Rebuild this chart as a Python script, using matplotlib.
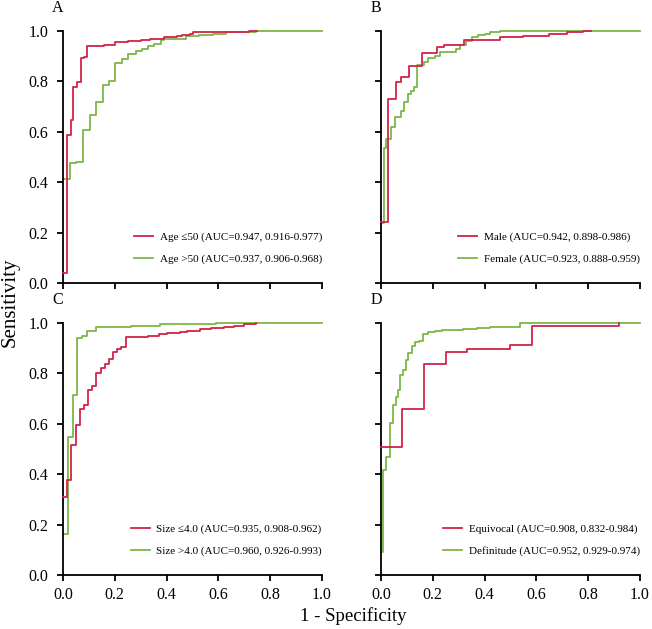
import matplotlib
matplotlib.use("Agg")
import matplotlib.pyplot as plt

plt.rcParams['font.family'] = ['Liberation Serif', 'DejaVu Serif']

RED = '#D2234B'
GREEN = '#7DB646'

# panel A - age
a_red_x = [0, 0.014, 0.030, 0.040, 0.053, 0.068, 0.080, 0.091, 0.16, 0.20, 0.25, 0.30, 0.335, 0.39, 0.44, 0.46, 0.49, 0.50, 0.72, 0.75]
a_red_y = [0.04, 0.587, 0.647, 0.776, 0.796, 0.892, 0.898, 0.94, 0.945, 0.955, 0.96, 0.965, 0.97, 0.975, 0.98, 0.985, 0.99, 0.995, 1.0, 1.0]
a_grn_x = [0, 0.027, 0.05, 0.076, 0.104, 0.127, 0.153, 0.178, 0.202, 0.229, 0.25, 0.283, 0.306, 0.33, 0.353, 0.379, 0.39, 0.476, 0.527, 0.578, 0.63, 0.746, 1.0]
a_grn_y = [0.413, 0.475, 0.48, 0.607, 0.667, 0.72, 0.786, 0.80, 0.873, 0.89, 0.91, 0.92, 0.93, 0.94, 0.95, 0.965, 0.97, 0.98, 0.985, 0.99, 0.995, 1.0, 1.0]
a_labels = ['Age \u226450 (AUC=0.947, 0.916-0.977)', 'Age >50 (AUC=0.937, 0.906-0.968)']

# panel B - sex
b_red_x = [0, 0.027, 0.057, 0.079, 0.109, 0.16, 0.217, 0.243, 0.32, 0.46, 0.55, 0.65, 0.72, 0.78, 0.81]
b_red_y = [0.242, 0.729, 0.796, 0.818, 0.862, 0.912, 0.935, 0.943, 0.966, 0.976, 0.982, 0.99, 0.995, 1.0, 1.0]
b_grn_x = [0, 0.012, 0.02, 0.037, 0.053, 0.076, 0.089, 0.104, 0.115, 0.127, 0.14, 0.166, 0.181, 0.207, 0.227, 0.29, 0.304, 0.33, 0.35, 0.374, 0.40, 0.42, 0.46, 1.0]
b_grn_y = [0.24, 0.534, 0.570, 0.620, 0.657, 0.683, 0.72, 0.749, 0.763, 0.776, 0.865, 0.876, 0.891, 0.90, 0.918, 0.929, 0.944, 0.96, 0.977, 0.985, 0.99, 0.995, 1.0, 1.0]
b_labels = ['Male (AUC=0.942, 0.898-0.986)', 'Female (AUC=0.923, 0.888-0.959)']

# panel C - size
c_red_x = [0, 0.017, 0.032, 0.049, 0.064, 0.081, 0.097, 0.113, 0.129, 0.148, 0.161, 0.178, 0.193, 0.208, 0.225, 0.242, 0.28, 0.33, 0.37, 0.40, 0.45, 0.48, 0.53, 0.57, 0.62, 0.66, 0.70, 0.745]
c_red_y = [0.311, 0.376, 0.516, 0.596, 0.66, 0.676, 0.736, 0.749, 0.803, 0.82, 0.836, 0.856, 0.883, 0.897, 0.903, 0.943, 0.945, 0.95, 0.955, 0.96, 0.965, 0.97, 0.975, 0.98, 0.985, 0.99, 0.995, 1.0]
c_grn_x = [0, 0.019, 0.039, 0.055, 0.075, 0.093, 0.129, 0.261, 0.373, 0.592, 1.0]
c_grn_y = [0.163, 0.549, 0.716, 0.94, 0.947, 0.967, 0.984, 0.989, 0.996, 1.0, 1.0]
c_labels = ['Size \u22644.0 (AUC=0.935, 0.908-0.962)', 'Size >4.0 (AUC=0.960, 0.926-0.993)']

# panel D - equivocal / definitude
d_red_x = [0, 0.083, 0.167, 0.25, 0.333, 0.5, 0.583, 0.917]
d_red_y = [0.509, 0.66, 0.837, 0.883, 0.897, 0.913, 0.987, 1.0]
d_grn_x = [0, 0.008, 0.021, 0.036, 0.047, 0.057, 0.067, 0.075, 0.085, 0.096, 0.105, 0.118, 0.13, 0.147, 0.163, 0.182, 0.208, 0.234, 0.318, 0.37, 0.42, 0.537, 1.0]
d_grn_y = [0.093, 0.416, 0.469, 0.603, 0.673, 0.707, 0.733, 0.793, 0.813, 0.853, 0.88, 0.907, 0.923, 0.927, 0.956, 0.964, 0.969, 0.973, 0.976, 0.98, 0.984, 1.0, 1.0]
d_labels = ['Equivocal (AUC=0.908, 0.832-0.984)', 'Definitude (AUC=0.952, 0.929-0.974)']

ticks = [0.0, 0.2, 0.4, 0.6, 0.8, 1.0]
tick_labels = ['0.0', '0.2', '0.4', '0.6', '0.8', '1.0']

fig = plt.figure(figsize=(6.52, 6.29), dpi=100)

W, H = 652.0, 629.0
aw, ah = 259 / W, 252 / H
boxes = {
    'A': (63 / W, (629 - 283) / H),
    'B': (381 / W, (629 - 283) / H),
    'C': (63 / W, (629 - 575) / H),
    'D': (381 / W, (629 - 575) / H),
}

panels = [
    ('A', a_red_x, a_red_y, a_grn_x, a_grn_y, a_labels),
    ('B', b_red_x, b_red_y, b_grn_x, b_grn_y, b_labels),
    ('C', c_red_x, c_red_y, c_grn_x, c_grn_y, c_labels),
    ('D', d_red_x, d_red_y, d_grn_x, d_grn_y, d_labels),
]

for name, rx, ry, gx, gy, labels in panels:
    left, bottom = boxes[name]
    ax = fig.add_axes([left, bottom, aw, ah])
    l1, = ax.plot(rx, ry, drawstyle='steps-post', color=RED, lw=1.3, zorder=3, clip_on=False)
    l2, = ax.plot(gx, gy, drawstyle='steps-post', color=GREEN, lw=1.3, zorder=2, clip_on=False)
    ax.set_xlim(0, 1.0)
    ax.set_ylim(0, 1.0)
    for s in ['top', 'right']:
        ax.spines[s].set_visible(False)
    for s in ['left', 'bottom']:
        ax.spines[s].set_linewidth(1.3)
    ax.set_xticks(ticks)
    ax.set_yticks(ticks)
    ax.tick_params(length=4.5, width=1.3, labelsize=11.5, pad=4)
    ax.tick_params(axis='y', pad=6)
    if name in ('A', 'C'):
        ax.set_yticklabels(tick_labels)
    else:
        ax.set_yticklabels([])
    if name in ('C', 'D'):
        ax.set_xticklabels(tick_labels)
    else:
        ax.set_xticklabels([])
    ax.legend([l1, l2], labels, loc='lower right', bbox_to_anchor=(1.0, 0.075),
              frameon=False, fontsize=8, handlelength=1.7, handletextpad=0.6,
              labelspacing=1.1, borderpad=0, borderaxespad=0)
    fig.text(left - 5 / W, bottom + ah + 23 / H, name, fontsize=11.5, ha='center', va='center')

fig.text(10 / W, 1 - 302 / H, 'Sensitivity', rotation=90, fontsize=15, ha='center', va='center')
fig.text(353 / W, 1 - 616 / H, '1 - Specificity', fontsize=13.5, ha='center', va='center')

fig.savefig('out.png', dpi=100)
